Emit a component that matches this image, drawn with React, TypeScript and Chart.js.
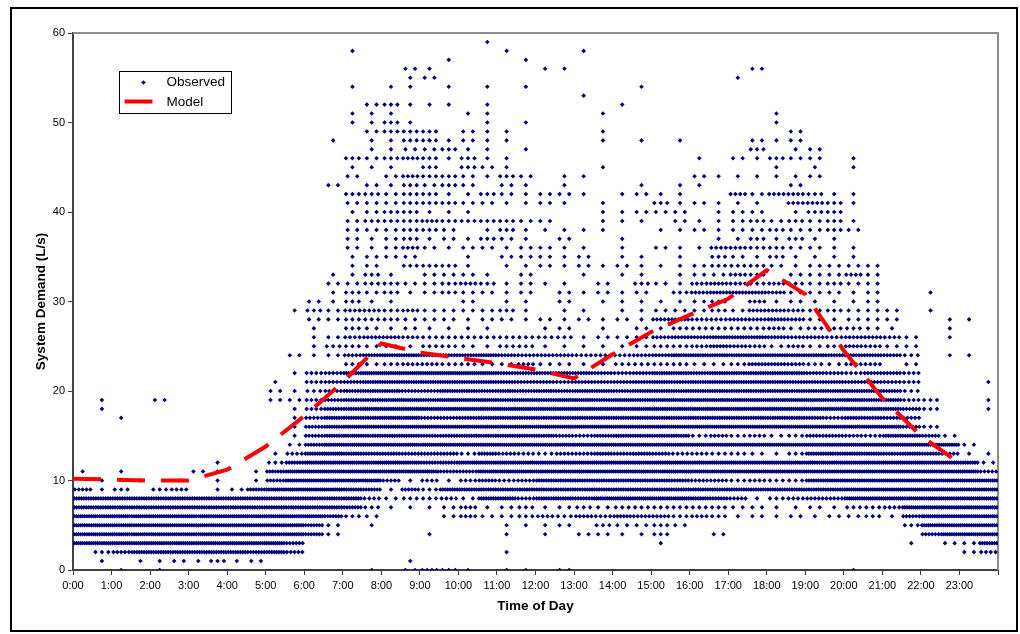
import React, { useEffect, useRef } from 'react';
import { Chart, registerables } from 'chart.js';

Chart.register(...registerables);

// ---------- data ----------
const X_TICK_LABELS = [
  '0:00', '1:00', '2:00', '3:00', '4:00', '5:00', '6:00', '7:00', '8:00', '9:00', '10:00', '11:00',
  '12:00', '13:00', '14:00', '15:00', '16:00', '17:00', '18:00', '19:00', '20:00', '21:00', '22:00', '23:00',
];
const Y_TICKS = [0, 10, 20, 30, 40, 50, 60];

// Model curve (hour of day, demand L/s)
const MODEL_HOURS = [0, 1, 2, 3, 4, 5, 6, 7, 8, 9, 10, 11, 12, 13, 14, 15, 16, 17, 18, 19, 20, 21, 22, 22.85];
const MODEL_DEMAND = [10.2, 10.1, 10.0, 10.0, 11.2, 13.8, 17.2, 21.0, 25.3, 24.3, 23.7, 23.1, 22.4, 21.4, 24.1, 26.6, 28.5, 30.3, 33.5, 30.8, 24.5, 19.2, 15.0, 12.4];

// Observed readings: one row per demand level (index = L/s), one digit per
// half-hour slot of the day = number of readings seen in that slot.
const SLOT_HOURS = 0.5;
const OBSERVED_ROWS = [
  '00101000 00000001 02431011 02000000 00000000 10000000', // 0
  '01011213 12000000 01000000 00000000 00000000 00000000', // 1
  '03588888 87850000 00000010 00000000 00000000 00000024', // 2
  '99999999 99960000 00000000 00000010 00000000 00010228', // 3
  '99999999 99997200 00100010 10221130 02000000 00006999', // 4
  '99999999 99997201 00000011 12032232 00000000 00039999', // 5
  '99999999 99999732 00024223 43546553 43121212 23169999', // 6
  '88888888 88888873 11124123 12323333 33221121 33499999', // 7
  '88888888 88888884 23342885 88799999 87513455 99999999', // 8
  '51303401 27999987 16388888 88888888 88888888 99999999', // 9
  '01010101 01699999 51414645 88888887 55343389 99999999', // 10
  '10100021 01799999 99966999 99999999 99999999 99999995', // 11
  '00000001 00379999 99779999 99999999 99999999 99999982', // 12
  '00000000 00148987 76663754 35576764 43321388 88787511', // 13
  '00000000 00027999 99999999 99999999 99999999 99999920', // 14
  '00000000 00016898 88778888 86578888 35342366 54886200', // 15
  '00000000 00016899 99999999 99999999 99999999 99963000', // 16
  '00100000 00015888 99667888 88888888 88888875 77650000', // 17
  '01000000 00014789 99999999 99999999 99999999 99863001', // 18
  '01002000 00224688 99899989 89989899 99999998 98843001', // 19
  '00000000 00213578 86688787 87887888 88888888 88730000', // 20
  '00000000 00104568 88888876 65666787 88888777 66540001', // 21
  '00000000 00014589 99999977 77765688 78888865 46640000', // 22
  '00000000 00000032 34433224 22113333 22366532 44020000', // 23
  '00000000 00021257 88777865 55444568 88888887 77630110', // 24
  '00000000 00001332 21332133 11111233 46542423 54220000', // 25
  '00000000 00001245 54333333 33122256 67776554 55420100', // 26
  '00000000 00001032 12111100 12010213 33334233 32100100', // 27
  '00000000 00002233 32221221 21212156 44556521 22200110', // 28
  '00000000 00013244 34222231 01101122 23255423 22201000', // 29
  '00000000 00002131 10002011 02011111 23041211 12000000', // 30
  '00000000 00000132 31232212 02121203 56665222 12001000', // 31
  '00000000 00000223 32234312 11020321 45434323 22000000', // 32
  '00000000 00000113 10222102 00101101 22430222 42000000', // 33
  '00000000 00000012 03331011 21212111 23332122 22000000', // 34
  '00000000 00000012 22001022 21201101 03213111 10000000', // 35
  '00000000 00000021 24212212 21101021 14433221 10000000', // 36
  '00000000 00000021 23121321 02001000 01131311 00000000', // 37
  '00000000 00000022 23320131 11110011 21223223 20000000', // 38
  '00000000 00000023 33433332 20011102 11232323 10000000', // 39
  '00000000 00000012 33111000 00011222 01220133 00000000', // 40
  '00000000 00000022 23332211 21010031 21110443 10000000', // 41
  '00000000 00000033 23311321 22101211 00424431 10000000', // 42
  '00000000 00000202 13232021 01000101 10000200 00000000', // 43
  '00000000 00000020 24332132 01100000 21111120 00000000', // 44
  '00000000 00000011 10303210 00010000 00001010 10000000', // 45
  '00000000 00000032 34313110 00000000 10213220 10000000', // 46
  '00000000 00000001 12231101 00000000 00030120 00000000', // 47
  '00000000 00000101 13312110 00010101 00021200 00000000', // 48
  '00000000 00000002 33302110 00010000 00000200 00000000', // 49
  '00000000 00000011 31000101 00000000 00001000 00000000', // 50
  '00000000 00000011 10001100 00010000 00001000 00000000', // 51
  '00000000 00000002 31110100 00001000 00000000 00000000', // 52
  '00000000 00000000 00000000 00100000 00000000 00000000', // 53
  '00000000 00000010 11010101 00000100 00000000 00000000', // 54
  '00000000 00000000 01200000 00000000 00100000 00000000', // 55
  '00000000 00000000 02100000 11000000 00020000 00000000', // 56
  '00000000 00000000 00010001 00000000 00000000 00000000', // 57
  '00000000 00000010 00000010 00100000 00000000 00000000', // 58
  '00000000 00000000 00000100 00000000 00000000 00000000', // 59
];

const SERIES_OBSERVED = 'Observed';
const SERIES_MODEL = 'Model';
const X_TITLE = 'Time of Day';
const Y_TITLE = 'System Demand (L/s)';

// ---------- styling ----------
const FONT = "'Liberation Sans', Arial, Helvetica, sans-serif";
const NAVY = '#000080';
const RED = '#ff0000';

function buildObserved() {
  const pts: { x: number; y: number }[] = [];
  OBSERVED_ROWS.forEach((row, demand) => {
    const cells = row.replace(/\s/g, '');
    for (let k = 0; k < cells.length; k++) {
      const n = Number(cells[k]);
      for (let i = 0; i < n; i++) {
        pts.push({ x: k * SLOT_HOURS + ((i + 0.5) * SLOT_HOURS) / n, y: demand });
      }
    }
  });
  return pts;
}

function diamond(ctx: CanvasRenderingContext2D, x: number, y: number, r: number) {
  ctx.beginPath();
  ctx.moveTo(x, y - r);
  ctx.lineTo(x + r, y);
  ctx.lineTo(x, y + r);
  ctx.lineTo(x - r, y);
  ctx.closePath();
  ctx.fill();
}

const framePlugin = {
  id: 'excelFrame',
  beforeDatasetsDraw(chart: any) {
    const { ctx, chartArea } = chart;
    const { left, right, top, bottom } = chartArea;
    ctx.save();
    ctx.strokeStyle = '#8c8c8c';
    ctx.lineWidth = 2;
    ctx.beginPath();
    ctx.moveTo(left, top);
    ctx.lineTo(right, top);
    ctx.lineTo(right, bottom);
    ctx.stroke();
    ctx.restore();
  },
  afterDraw(chart: any) {
    const { ctx, chartArea } = chart;
    const bx = chartArea.left + 46.5;
    const by = chartArea.top + 38.5;
    const bw = 112;
    const bh = 42;
    ctx.save();
    ctx.fillStyle = '#ffffff';
    ctx.fillRect(bx, by, bw, bh);
    ctx.strokeStyle = '#000000';
    ctx.lineWidth = 1;
    ctx.strokeRect(bx, by, bw, bh);
    // observed marker
    ctx.fillStyle = NAVY;
    diamond(ctx, bx + 24, by + 11, 2.3);
    // model line sample
    ctx.strokeStyle = RED;
    ctx.lineWidth = 4;
    ctx.beginPath();
    ctx.moveTo(bx + 5, by + 30);
    ctx.lineTo(bx + 33, by + 30);
    ctx.stroke();
    ctx.fillStyle = '#000000';
    ctx.font = `13.5px ${FONT}`;
    ctx.textBaseline = 'middle';
    ctx.textAlign = 'left';
    const labels = chart.data.datasets.map((d: any) => d.label);
    ctx.fillText(labels[1], bx + 47, by + 11);
    ctx.fillText(labels[0], bx + 47, by + 31);
    ctx.restore();
  },
};

export default function App() {
  const canvasRef = useRef<HTMLCanvasElement | null>(null);

  useEffect(() => {
    const canvas = canvasRef.current;
    if (!canvas) return;
    const observed = buildObserved();
    const model = MODEL_HOURS.map((h, i) => ({ x: h, y: MODEL_DEMAND[i] }));

    const chart = new Chart(canvas, {
      type: 'scatter',
      data: {
        datasets: [
          {
            label: SERIES_MODEL,
            data: model,
            showLine: true,
            borderColor: RED,
            backgroundColor: RED,
            borderWidth: 4,
            borderDash: [28, 16],
            borderCapStyle: 'butt',
            pointRadius: 0,
            pointHoverRadius: 0,
            tension: 0,
            order: 0,
          } as any,
          {
            label: SERIES_OBSERVED,
            data: observed,
            pointStyle: 'rectRot',
            pointRadius: 2.3,
            pointHoverRadius: 2.3,
            backgroundColor: NAVY,
            borderColor: NAVY,
            borderWidth: 0,
            order: 1,
          } as any,
        ],
      },
      options: {
        animation: false,
        responsive: false,
        maintainAspectRatio: false,
        devicePixelRatio: 1,
        events: [],
        layout: { padding: { left: 29, top: 33, right: 22, bottom: 16 } },
        plugins: {
          legend: { display: false },
          tooltip: { enabled: false },
        },
        scales: {
          x: {
            type: 'linear',
            min: 0,
            max: 24,
            afterFit: (s: any) => {
              s.height = 48;
            },
            ticks: {
              stepSize: 1,
              autoSkip: false,
              maxRotation: 0,
              padding: 4,
              color: '#000',
              font: { family: FONT, size: 11 },
              callback: (v: any) => (X_TICK_LABELS[Number(v)] !== undefined ? X_TICK_LABELS[Number(v)] : ''),
            },
            grid: { display: true, drawOnChartArea: false, drawTicks: true, tickLength: 5, color: '#404040', lineWidth: 1 },
            border: { display: true, color: '#404040', width: 2 },
            title: {
              display: true,
              text: X_TITLE,
              color: '#000',
              font: { family: FONT, size: 13.5, weight: 'bold' },
              padding: { top: 0, bottom: 4 },
            },
          },
          y: {
            type: 'linear',
            min: 0,
            max: 60,
            afterFit: (s: any) => {
              s.width = 44;
            },
            afterBuildTicks: (s: any) => {
              s.ticks = Y_TICKS.map((v) => ({ value: v }));
            },
            ticks: {
              padding: 3,
              color: '#000',
              font: { family: FONT, size: 11 },
            },
            grid: { display: true, drawOnChartArea: false, drawTicks: true, tickLength: 5, color: '#404040', lineWidth: 1 },
            border: { display: true, color: '#404040', width: 2 },
            title: {
              display: true,
              text: Y_TITLE,
              color: '#000',
              font: { family: FONT, size: 13.5, weight: 'bold' },
              padding: { top: 4, bottom: 0 },
            },
          },
        },
      } as any,
      plugins: [framePlugin],
    });

    return () => {
      chart.destroy();
    };
  }, []);

  return (
    <div style={{ position: 'absolute', left: 0, top: 0, width: 1020, height: 634, background: '#fff' }}>
      <canvas ref={canvasRef} width={1020} height={634} style={{ position: 'absolute', left: 0, top: 0, width: 1020, height: 634 }} />
      <div
        style={{
          position: 'absolute',
          left: 10,
          top: 7,
          width: 1008,
          height: 625,
          border: '2px solid #000',
          boxSizing: 'border-box',
          pointerEvents: 'none',
        }}
      />
    </div>
  );
}
